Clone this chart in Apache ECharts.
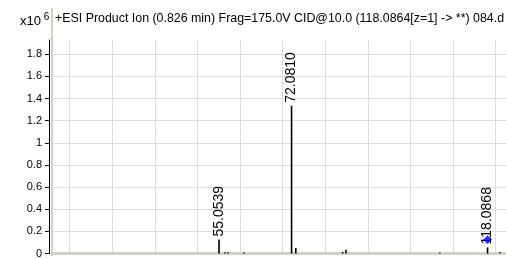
<!DOCTYPE html>
<html>
<head>
<meta charset="utf-8">
<script src="https://cdn.jsdelivr.net/npm/echarts@6/dist/echarts.min.js"></script>
<style>
html,body{margin:0;padding:0;background:#fff;}
#c{width:506px;height:259px;}
</style>
</head>
<body>
<div id="c"></div>
<script>
// m/z of each drawn peak and its abundance (x10^6 counts)
const peakMz = [55.0539, 56.46, 57.17, 60.92, 72.0810, 73.08, 84.09, 84.86, 106.9, 118.0868, 121.0];
const peakAbund = [0.126, 0.012, 0.012, 0.01, 1.335, 0.05, 0.015, 0.035, 0.01, 0.055, 0.012];
// which peaks get an m/z label
const labelledMz = [55.0539, 72.0810, 118.0868];
// precursor marker
const precursorMz = [118.0864];
const precursorAbund = [0.125];
// axis ticks
const yTicks = [0, 0.2, 0.4, 0.6, 0.8, 1, 1.2, 1.4, 1.6, 1.8];
const xGridMz = [20, 30, 40, 50, 60, 70, 80, 90, 100, 110, 120];
const titleText = '+ESI Product Ion (0.826 min) Frag=175.0V CID@10.0 (118.0864[z=1] -> **) 084.d';

const FONT = '"Liberation Sans", Arial, sans-serif';
const chart = echarts.init(document.getElementById('c'), null, {renderer: 'canvas'});

const barData = peakMz.map((m, i) => ({
  value: [m, peakAbund[i]],
  label: {show: labelledMz.indexOf(m) >= 0}
}));

const gridColor = '#dcdcdc';

chart.setOption({
  animation: false,
  backgroundColor: '#fff',
  grid: {left: 52, right: 0, top: 40, bottom: 5, containLabel: false},
  xAxis: {
    type: 'value',
    min: 15.85, max: 122.42,
    axisLine: {show: true, lineStyle: {color: '#d4d0c8', width: 3}},
    axisTick: {show: false},
    axisLabel: {show: false},
    splitLine: {show: false}
  },
  yAxis: {
    type: 'value',
    min: 0, max: 1.929,
    offset: 3,
    axisLine: {show: true, onZero: false, lineStyle: {color: '#000', width: 1}},
    axisTick: {show: true, length: 4, customValues: yTicks, lineStyle: {color: '#000'}},
    axisLabel: {show: true, customValues: yTicks, margin: 7, color: '#000', fontSize: 11, fontFamily: FONT},
    splitLine: {show: false}
  },
  series: [
    {
      type: 'line',
      data: [],
      silent: true,
      z: 0,
      markLine: {
        silent: true,
        z: 0,
        symbol: ['none', 'none'],
        label: {show: false},
        animation: false,
        lineStyle: {color: gridColor, width: 1, type: 'solid'},
        data: xGridMz.map(v => ({xAxis: v})).concat(yTicks.filter(v => v > 0).map(v => ({yAxis: v})))
      }
    },
    {
      type: 'bar',
      data: barData,
      barWidth: 1.6,
      itemStyle: {color: '#000'},
      z: 3,
      label: {
        show: false,
        position: 'top',
        rotate: 90,
        align: 'left',
        verticalAlign: 'middle',
        distance: 3,
        color: '#000',
        fontSize: 14,
        fontFamily: FONT,
        formatter: p => p.value[0].toFixed(4)
      }
    },
    {
      type: 'scatter',
      data: precursorMz.map((m, i) => [m, precursorAbund[i]]),
      symbol: 'diamond',
      symbolSize: 9,
      itemStyle: {color: '#0000ff'},
      z: 5
    }
  ],
  graphic: [
    {type: 'line', shape: {x1: 52, y1: 8, x2: 52, y2: 256}, style: {stroke: '#d4d0c8', lineWidth: 2}, z: 1},
    {type: 'text', left: 20, top: 12, z: 20, style: {
      text: '{a|x10}{b| 6}', rich: {
        a: {fontSize: 13, fontFamily: FONT, fill: '#000', verticalAlign: 'bottom'},
        b: {fontSize: 10, fontFamily: FONT, fill: '#000', verticalAlign: 'top', padding: [0, 0, 6, 0]}
      }}},
    {type: 'text', left: 55, top: 13, style: {text: titleText, fontSize: 12.4, fontFamily: FONT, fill: '#000'}}
  ]
});
</script>
</body>
</html>
